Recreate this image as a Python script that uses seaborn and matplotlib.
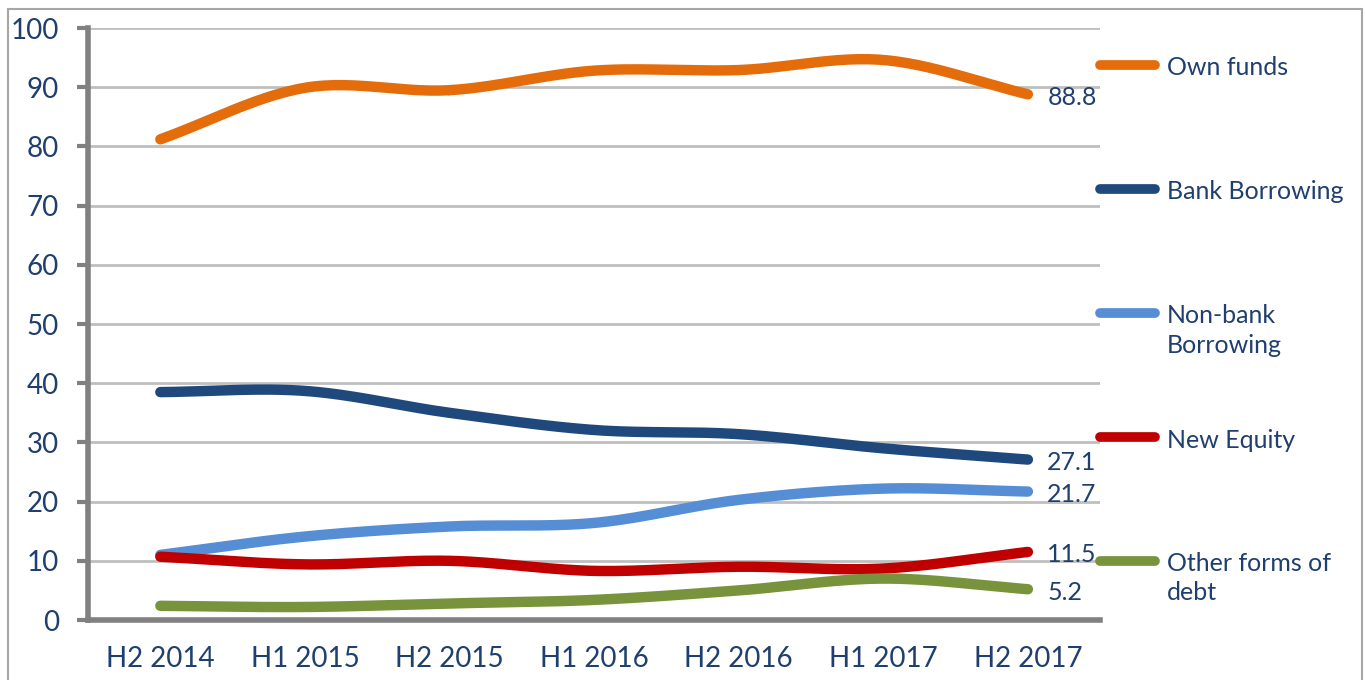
import numpy as np
import pandas as pd
import matplotlib
matplotlib.use("Agg")
import matplotlib.pyplot as plt
import seaborn as sns

# values
periods = ['H2 2014', 'H1 2015', 'H2 2015', 'H1 2016', 'H2 2016', 'H1 2017', 'H2 2017']
own_funds = [81.2, 89.9, 89.5, 92.8, 92.9, 94.6, 88.8]
bank_borrowing = [38.5, 38.7, 35.0, 32.1, 31.4, 29.0, 27.1]
non_bank_borrowing = [11.0, 14.1, 15.8, 16.4, 20.3, 22.2, 21.7]
new_equity = [10.7, 9.4, 10.0, 8.3, 9.0, 8.7, 11.5]
other_debt = [2.4, 2.2, 2.8, 3.4, 5.0, 7.0, 5.2]

series_names = ['Own funds', 'Bank Borrowing', 'Non-bank\nBorrowing', 'New Equity', 'Other forms of\ndebt']
series_values = [own_funds, bank_borrowing, non_bank_borrowing, new_equity, other_debt]
colors = ['#E46C0A', '#1F497D', '#558ED5', '#C00000', '#77933C']
text_color = '#1F3F6E'
y_ticks = list(range(0, 101, 10))


def smooth(x, y, n=30):
    """Catmull-Rom curve through the points (like Excel's smoothed line)"""
    x = np.asarray(x, float)
    y = np.asarray(y, float)
    px = np.concatenate([[2 * x[0] - x[1]], x, [2 * x[-1] - x[-2]]])
    py = np.concatenate([[2 * y[0] - y[1]], y, [2 * y[-1] - y[-2]]])
    xs, ys = [], []
    t = np.linspace(0, 1, n)
    for i in range(1, len(px) - 2):
        for p, out in ((px, xs), (py, ys)):
            p0, p1, p2, p3 = p[i - 1], p[i], p[i + 1], p[i + 2]
            out.append(0.5 * ((2 * p1) + (-p0 + p2) * t
                              + (2 * p0 - 5 * p1 + 4 * p2 - p3) * t ** 2
                              + (-p0 + 3 * p1 - 3 * p2 + p3) * t ** 3))
    return np.concatenate(xs), np.concatenate(ys)


sns.set_style('white')
plt.rcParams['font.family'] = ['Lato', 'DejaVu Sans']

fig = plt.figure(figsize=(13.65, 6.8), dpi=100)
ax = fig.add_axes([0.0645, 0.0882, 0.7415, 0.8706])

x_pos = np.arange(len(periods))
frames = []
for name, vals in zip(series_names, series_values):
    sx, sy = smooth(x_pos, vals)
    frames.append(pd.DataFrame({'x': sx, 'y': sy, 'series': name}))
df = pd.concat(frames, ignore_index=True)

sns.lineplot(data=df, x='x', y='y', hue='series', palette=colors, sort=False,
             estimator=None, linewidth=7.5, legend=False, ax=ax)
for line in ax.lines:
    line.set_solid_capstyle('round')

# end value labels
for vals in series_values:
    ax.annotate(f'{vals[-1]:.1f}', (x_pos[-1], vals[-1]), xytext=(14, -2),
                textcoords='offset points', ha='left', va='center',
                fontsize=18, color=text_color)

# legend drawn on the right side
leg_y = [0.9375, 0.728, 0.5186, 0.309, 0.0997]
for name, c, yy in zip(series_names, colors, leg_y):
    ax.plot([1.0, 1.054], [yy, yy], transform=ax.transAxes, color=c,
            linewidth=7, solid_capstyle='round', clip_on=False)
    ax.text(1.066, yy + 0.0145, name, transform=ax.transAxes, ha='left', va='top',
            fontsize=18, color=text_color, linespacing=1.32)

ax.set_xlim(-0.5, len(periods) - 0.5)
ax.set_ylim(0, 100)
ax.set_xticks(x_pos)
ax.set_xticklabels(periods)
ax.set_yticks(y_ticks)
ax.set_xlabel('')
ax.set_ylabel('')
ax.grid(axis='y', color='#BFBFBF', linewidth=2)
ax.set_axisbelow(True)
for s in ['top', 'right']:
    ax.spines[s].set_visible(False)
for s in ['left', 'bottom']:
    ax.spines[s].set_color('#808080')
    ax.spines[s].set_linewidth(4)
ax.tick_params(axis='y', length=8, width=3, color='#808080', pad=13,
               labelsize=20, labelcolor=text_color, left=True)
ax.tick_params(axis='x', length=0, pad=19, labelsize=20, labelcolor=text_color)

# outer frame
fig.patches.append(plt.Rectangle((0.006, -0.05), 0.992, 1.037, transform=fig.transFigure,
                                 fill=False, edgecolor='#A6A6A6', linewidth=1.5))

fig.savefig('out.png', dpi=100)
